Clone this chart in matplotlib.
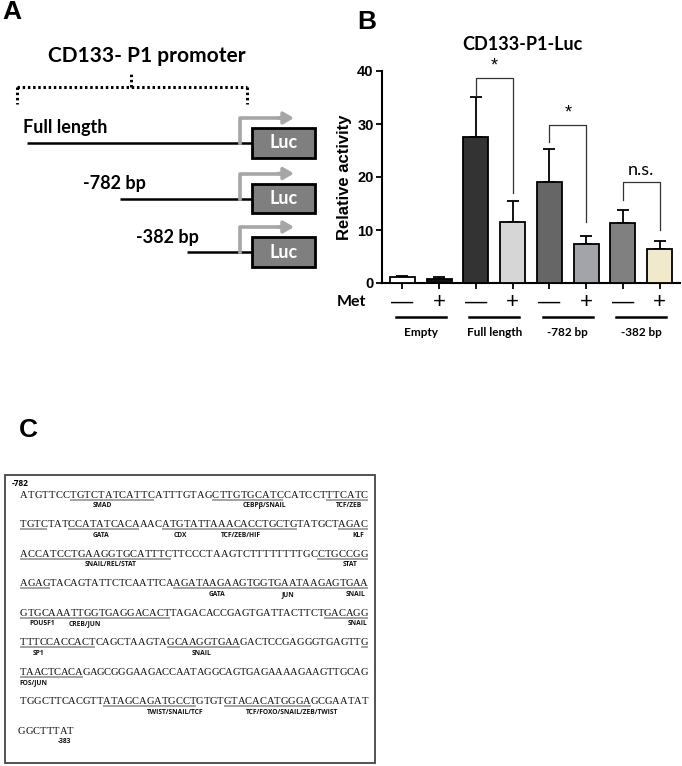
import matplotlib
matplotlib.use("Agg")
import matplotlib.pyplot as plt
from matplotlib.patches import Rectangle
from matplotlib.font_manager import FontProperties
import numpy as np

# ---------------- Panel B data ----------------
group_names = ["Empty", "Full length", "-782 bp", "-382 bp"]
met_labels = ["—", "+", "—", "+", "—", "+", "—", "+"]
activity = [1.1, 0.7, 27.5, 11.5, 19.1, 7.3, 11.3, 6.5]
activity_err = [0.2, 0.4, 7.5, 4.0, 6.2, 1.5, 2.5, 1.4]
bar_colors = ["#ffffff", "#111111", "#333333", "#d6d6d6",
              "#666666", "#a3a3aa", "#808080", "#f0e9cc"]
sig_left = [2, 4, 6]
sig_right = [3, 5, 7]
sig_top = [38.7, 29.8, 19.1]
sig_left_end = [35.3, 26.6, 15.7]
sig_right_end = [17.0, 11.6, 10.0]
sig_text = ["*", "*", "n.s."]
yticks = [0, 10, 20, 30, 40]

# ---------------- Panel A data ----------------
construct_names = ["Full length", "-782 bp", "-382 bp"]

# ---------------- Panel C data ----------------
seq_lines = [
    "ATGTTCCTGTCTATCATTCATTTGTAGCTTGTGCATCCATCCTTTCATC",
    "TGTCTATCCATATCACAAACATGTATTAAACACCTGCTGTATGCTAGAC",
    "ACCATCCTGAAGGTGCATTTCTTCCCTAAGTCTTTTTTTTGCCTGCCGG",
    "AGAGTACAGTATTCTCAATTCAAGATAAGAAGTGGTGAATAAGAGTGAA",
    "GTGCAAATTGGTGAGGACACTTAGACACCGAGTGATTACTTCTGACAGG",
    "TTTCCACCACTCAGCTAAGTAGCAAGGTGAAGACTCCGAGGGTGAGTTG",
    "TAACTCACAGAGCGGGAAGACCAATAGGCAGTGAGAAAAGAAGTTGCAG",
    "TGGCTTCACGTTATAGCAGATGCCTGTGTGTACACATGGGAGCGAATAT",
    "GGCTTTAT",
]
underlines = [
    [(7, 19), (27, 37), (43, 49)],
    [(0, 4), (7, 17), (20, 39), (45, 49)],
    [(0, 21), (42, 49)],
    [(0, 4), (22, 44), (44, 49)],
    [(0, 21), (43, 49)],
    [(0, 11), (21, 31), (48, 49)],
    [(0, 9)],
    [(12, 25), (29, 41)],
    [],
]
tf_labels = [
    [(11.6, "SMAD"), (34.3, "CEBPβ/SNAIL"), (46.3, "TCF/ZEB")],
    [(11.7, "GATA"), (22.6, "CDX"), (31.1, "TCF/ZEB/HIF"), (47.7, "KLF")],
    [(12.3, "SNAIL/REL/STAT"), (46.6, "STAT")],
    [(28.0, "GATA"), (37.9, "JUN"), (47.3, "SNAIL")],
    [(3.2, "POU5F1"), (9.2, "CREB/JUN"), (47.6, "SNAIL")],
    [(2.8, "SP1"), (25.8, "SNAIL")],
    [(1.9, "FOS/JUN")],
    [(21.9, "TWIST/SNAIL/TCF"), (38.6, "TCF/FOXO/SNAIL/ZEB/TWIST")],
    [(6.6, "-383")],
]
seq_start_label = "-782"

W, H = 682, 766
fig = plt.figure(figsize=(W / 100, H / 100), dpi=100)
ax0 = fig.add_axes([0, 0, 1, 1], zorder=0)
ax0.set_xlim(0, W)
ax0.set_ylim(H, 0)
ax0.axis("off")
ax0.patch.set_alpha(0)

CAL = "Lato"
ARI = "Liberation Sans"
LBL = "Open Sans"

# panel letters
ax0.text(12, 12, "A", fontsize=19, fontweight="bold", family=ARI, ha="center", va="center")
ax0.text(367, 22, "B", fontsize=19, fontweight="bold", family=ARI, ha="center", va="center")
ax0.text(28, 430, "C", fontsize=19, fontweight="bold", family=ARI, ha="center", va="center")

# ---------------- Panel A ----------------
ax0.text(147, 56, "CD133- P1 promoter", fontsize=15, fontweight="bold", family=CAL,
         ha="center", va="center")
dot = dict(color="black", lw=2.2, linestyle=(0, (0.8, 0.9)), solid_capstyle="butt")
ax0.plot([17, 247], [87, 87], **dot)
ax0.plot([17, 17], [87, 104], **dot)
ax0.plot([247, 247], [87, 104], **dot)
ax0.plot([131, 131], [87, 72], **dot)

row_y = [143, 198.5, 252]
row_start = [27, 120, 187]
text_x = [23, 83, 136]
for name, y, xs, tx in zip(construct_names, row_y, row_start, text_x):
    ax0.plot([xs, 253], [y, y], color="black", lw=1.8, solid_capstyle="butt")
    ax0.plot([240, 240, 282], [y, y - 25, y - 25], color="#a6a6a6", lw=2.6,
             solid_joinstyle="round")
    ax0.annotate("", xy=(294, y - 25), xytext=(278, y - 25),
                 arrowprops=dict(arrowstyle="-|>,head_length=0.6,head_width=0.35",
                                 color="#a6a6a6", lw=2.6, shrinkA=0, shrinkB=0))
    ax0.add_patch(Rectangle((252, y - 15), 63, 29.5, facecolor="#7f7f7f",
                            edgecolor="black", lw=2.0, zorder=3))
    ax0.text(283.5, y, "Luc", color="white", fontsize=13, fontweight="bold",
             family=CAL, ha="center", va="center", zorder=4)
    ax0.text(tx, y - 15, name, fontsize=13, fontweight="bold", family=CAL,
             ha="left", va="center")

# ---------------- Panel B ----------------
axB = fig.add_axes([382 / W, 1 - 283 / H, 298 / W, 212 / H], zorder=2)
axB.patch.set_alpha(0)
x = np.arange(len(activity))
axB.errorbar(x, activity, yerr=[np.zeros(len(activity)), activity_err], fmt="none",
             ecolor="black", elinewidth=1.3, capsize=4, capthick=1.3, zorder=2)
axB.bar(x, activity, width=0.68, color=bar_colors, edgecolor="black", linewidth=1.3,
        zorder=3)
axB.set_xlim(-0.55, 7.55)
axB.set_ylim(0, 40)
for s in ["top", "right"]:
    axB.spines[s].set_visible(False)
for s in ["left", "bottom"]:
    axB.spines[s].set_linewidth(1.5)
axB.set_yticks(yticks)
axB.set_yticklabels([str(v) for v in yticks], fontsize=10.5, fontweight="bold", family=ARI)
axB.set_xticks(x)
axB.set_xticklabels([""] * len(x))
axB.tick_params(axis="both", direction="out", length=4, width=1.3, pad=2)
axB.set_ylabel("Relative activity", fontsize=12, fontweight="bold", family=ARI, labelpad=4)
fig.text(522 / W, 1 - 45 / H, "CD133-P1-Luc", fontsize=13, fontweight="bold", family=CAL,
         ha="center", va="center")

for l, r, top, le, re, t in zip(sig_left, sig_right, sig_top, sig_left_end, sig_right_end, sig_text):
    axB.plot([l, l, r, r], [le, top, top, re], color="#333333", lw=0.9, clip_on=False, zorder=4)
    if t == "*":
        axB.text((l + r) / 2, top + 0.6, t, fontsize=13, family=ARI, ha="center",
                 va="bottom", clip_on=False)
    else:
        axB.text((l + r) / 2, top + 0.8, t, fontsize=13, family=CAL, ha="center",
                 va="bottom", clip_on=False)

xt = axB.get_xaxis_transform()
for xi, lab in zip(x, met_labels):
    axB.text(xi, -0.09, lab, transform=xt, fontsize=16, family=ARI, ha="center",
             va="center", clip_on=False)
for gi, g in enumerate(group_names):
    c = 2 * gi + 0.5
    axB.plot([c - 0.68, c + 0.68], [-0.162, -0.162], transform=xt, color="black",
             lw=1.8, clip_on=False)
    axB.text(c, -0.235, g, transform=xt, fontsize=8.5, fontweight="bold", family=CAL,
             ha="center", va="center", clip_on=False)
ax0.text(366, 302, "Met", fontsize=11.5, fontweight="bold", family=CAL, ha="right", va="center")

# ---------------- Panel C ----------------
ax0.add_patch(Rectangle((5, 475), 370, 288, facecolor="none", edgecolor="#444444", lw=1.3))
ax0.text(12, 484, seq_start_label, fontsize=6, fontweight="bold", family=LBL,
         ha="left", va="center")

renderer = fig.canvas.get_renderer()
fp = FontProperties(family="Liberation Serif", size=7.6)
x0, x1 = 20.0, 368.0
line_y0, dy = 494, 29.5
full_len = max(len(s) for s in seq_lines)
for li, line in enumerate(seq_lines):
    yb = line_y0 + li * dy + 3.8
    widths = np.array([renderer.get_text_width_height_descent(ch, fp, ismath=False)[0]
                       for ch in line])
    n = len(line)
    if n == full_len:
        extra = (x1 - x0 - widths.sum()) / (n - 1)
        start = x0
    else:
        extra = 0.0
        start = x0 - 2
    lefts = start + np.concatenate([[0], np.cumsum(widths)[:-1]]) + np.arange(n) * extra
    for ch, lx in zip(line, lefts):
        ax0.text(lx, yb, ch, fontproperties=fp, color="#111111", ha="left", va="baseline")
    for a, b in underlines[li]:
        ax0.plot([lefts[a], lefts[b - 1] + widths[b - 1]], [yb + 1.7, yb + 1.7],
                 color="#8a8a8a", lw=1.1, solid_capstyle="butt")
    bounds = np.concatenate([lefts, [lefts[-1] + widths[-1]]])
    for idx, lab in tf_labels[li]:
        lx = np.interp(idx, np.arange(n + 1), bounds)
        ax0.text(lx, yb + 8, lab, fontsize=4.8, fontweight="bold", family=LBL,
                 ha="center", va="center", color="#111111")

fig.savefig("out.png", dpi=100)
